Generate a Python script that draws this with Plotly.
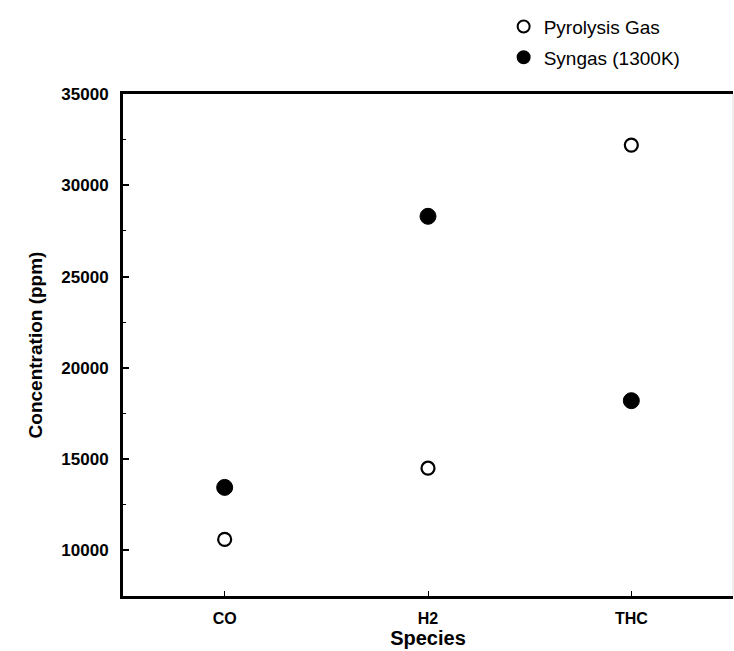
import plotly.graph_objects as go

# Species measured and concentrations (ppm)
species = ["CO", "H2", "THC"]
pyrolysis_gas = [10600, 14500, 32200]
syngas_1300k = [13450, 28300, 18200]

y_ticks = [10000, 15000, 20000, 25000, 30000, 35000]

bold_font = "Liberation Sans, Arial, sans-serif"

fig = go.Figure()

fig.add_trace(go.Scatter(
    x=[0, 1, 2], y=pyrolysis_gas, mode="markers", name="Pyrolysis Gas",
    legendgroup="a",
    marker=dict(symbol="circle", size=13, color="white",
                line=dict(color="black", width=2.2)),
))
fig.add_trace(go.Scatter(
    x=[0, 1, 2], y=syngas_1300k, mode="markers", name="Syngas (1300K)",
    legendgroup="b",
    marker=dict(symbol="circle", size=16, color="black",
                line=dict(color="black", width=1)),
))

fig.update_layout(
    width=734, height=651,
    margin=dict(l=123, r=1, t=94, b=55),
    paper_bgcolor="white", plot_bgcolor="white",
    showlegend=True,
    legend=dict(
        x=0.624, y=1.172, xanchor="left", yanchor="top",
        font=dict(family="Liberation Sans, Arial, sans-serif", size=19, color="black"),
        bgcolor="rgba(0,0,0,0)", traceorder="grouped", tracegroupgap=3,
        itemsizing="constant", itemwidth=30,
    ),
    xaxis=dict(
        range=[-0.5, 2.5],
        tickmode="array", tickvals=[0, 1, 2], ticktext=species,
        showgrid=False, zeroline=False,
        showline=True, linecolor="black", linewidth=3, mirror=True,
        ticks="inside", ticklen=5, tickwidth=1, tickcolor="black",
        tickfont=dict(family=bold_font, size=16, color="black", weight="bold"),
        ticklabelstandoff=6,
        title=dict(text="Species", standoff=0,
                   font=dict(family="Liberation Sans, Arial, sans-serif", size=20,
                             color="black", weight="bold")),
    ),
    yaxis=dict(
        range=[7500, 35000],
        tickmode="array", tickvals=y_ticks, ticktext=[str(v) for v in y_ticks],
        showgrid=False, zeroline=False,
        showline=True, linecolor="black", linewidth=3, mirror=False,
        ticks="inside", ticklen=6, tickwidth=1.5, tickcolor="black",
        minor=dict(ticks="inside", dtick=2500, ticklen=3, tickcolor="black", tickwidth=1),
        tickfont=dict(family=bold_font, size=17, color="black", weight="bold"),
        ticklabelstandoff=8,
        title=dict(text="Concentration (ppm)", standoff=14,
                   font=dict(family="Liberation Sans, Arial, sans-serif", size=19,
                             color="black", weight="bold")),
    ),
)

# faint right-hand border of the frame
fig.add_shape(type="line", xref="paper", yref="paper", x0=1, x1=1, y0=0, y1=1,
              line=dict(color="#dddddd", width=1))

fig.write_html("out.html")
